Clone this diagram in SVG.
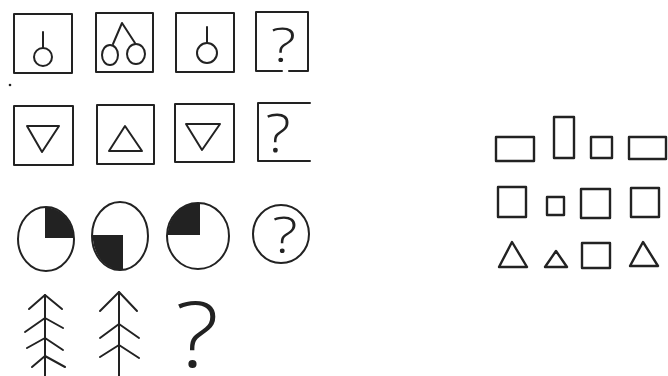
<svg xmlns="http://www.w3.org/2000/svg" width="668" height="376" viewBox="0 0 668 376">
<style>
.s{fill:none;stroke:#222;stroke-width:2;stroke-linejoin:round;stroke-linecap:round}
.t{fill:none;stroke:#222;stroke-width:2.4;stroke-linejoin:round}
.f{fill:#222;stroke:none}
.q{font-family:"Open Sans","Liberation Sans",sans-serif;font-weight:300;fill:#222;text-anchor:middle}
</style>
<rect width="668" height="376" fill="#fff"/>
<g id="row1">
  <g id="r1c1"><rect class="s" x="14" y="14" width="58" height="59"/><line class="s" x1="43" y1="32" x2="43" y2="48"/><ellipse class="s" cx="43" cy="57" rx="9" ry="9"/></g>
  <g id="r1c2"><rect class="s" x="96" y="13" width="57" height="59"/><polyline class="s" points="113,44 122,23 135,43"/><ellipse class="s" cx="110" cy="55" rx="8" ry="10"/><ellipse class="s" cx="136" cy="54" rx="9" ry="10"/></g>
  <g id="r1c3"><rect class="s" x="176" y="13" width="58" height="59"/><line class="s" x1="207" y1="27" x2="207" y2="43"/><ellipse class="s" cx="207" cy="53" rx="10" ry="10"/></g>
  <g id="r1c4"><polyline class="s" points="282,71 256,71 256,12 308,12 308,71 289,71"/><text class="q" x="0" y="62" font-size="48" transform="translate(283.5 0) scale(1.25 1)">?</text></g>
  <circle class="f" cx="10" cy="85" r="1.3"/>
</g>
<g id="row2">
  <g id="r2c1"><rect class="s" x="14" y="106" width="59" height="59"/><polygon class="s" points="27,126 59,126 42,152"/></g>
  <g id="r2c2"><rect class="s" x="97" y="105" width="57" height="59"/><polygon class="s" points="125,126 142,151 109,151"/></g>
  <g id="r2c3"><rect class="s" x="175" y="104" width="59" height="58"/><polygon class="s" points="186,124 220,124 202,150"/></g>
  <g id="r2c4"><polyline class="s" points="310,103 258,103 258,161 310,161"/><text class="q" x="0" y="152" font-size="54" transform="translate(278 0) scale(1.1 1)">?</text></g>
</g>
<g id="row3">
  <g id="r3c1"><path class="f" d="M45,238 L45,207.5 A28,32 0 0 1 73.8,238 Z"/><ellipse class="s" cx="46" cy="239" rx="28" ry="32"/></g>
  <g id="r3c2"><path class="f" d="M123,235 L123,270 A28,34 0 0 1 93,240 L93,235 Z"/><ellipse class="s" cx="120" cy="236" rx="28" ry="34"/></g>
  <g id="r3c3"><path class="f" d="M200,235 L200,203 A31,33 0 0 0 167.5,235 Z"/><ellipse class="s" cx="198" cy="236" rx="31" ry="33"/></g>
  <g id="r3c4"><ellipse class="s" cx="281" cy="234" rx="28" ry="29"/><text class="q" x="0" y="253" font-size="50" transform="translate(285 0) scale(1.2 1)">?</text></g>
</g>
<g id="row4">
  <g id="tree1"><line class="s" x1="45" y1="295" x2="45" y2="376"/><polyline class="s" points="29,309 45,295 62,309"/><polyline class="s" points="25,332 45,318 63,328"/><polyline class="s" points="27,348 45,338 63,350"/><polyline class="s" points="32,367 45,356 65,367"/></g>
  <g id="tree2"><line class="s" x1="119" y1="292" x2="119" y2="376"/><polyline class="s" points="100,311 119,292 137,311"/><polyline class="s" points="100,338 119,324 139,338"/><polyline class="s" points="100,357 119,345 139,358"/></g>
  <text class="q" x="0" y="367" font-size="90" transform="translate(197 0) scale(1.15 1)">?</text>
</g>
<g id="right">
  <g id="g1"><rect class="t" x="496" y="137" width="38" height="24"/><rect class="t" x="554" y="117" width="20" height="41"/><rect class="t" x="591" y="137" width="21" height="21"/><rect class="t" x="629" y="137" width="37" height="22"/></g>
  <g id="g2"><rect class="t" x="498" y="187" width="28" height="30"/><rect class="t" x="547" y="197" width="17" height="18"/><rect class="t" x="581" y="189" width="29" height="29"/><rect class="t" x="631" y="188" width="28" height="29"/></g>
  <g id="g3"><polygon class="t" points="512,242 527,267 499,267"/><polygon class="t" points="556,251 567,267 545,267"/><rect class="t" x="582" y="243" width="28" height="25"/><polygon class="t" points="643,242 658,266 630,266"/></g>
</g>
</svg>
